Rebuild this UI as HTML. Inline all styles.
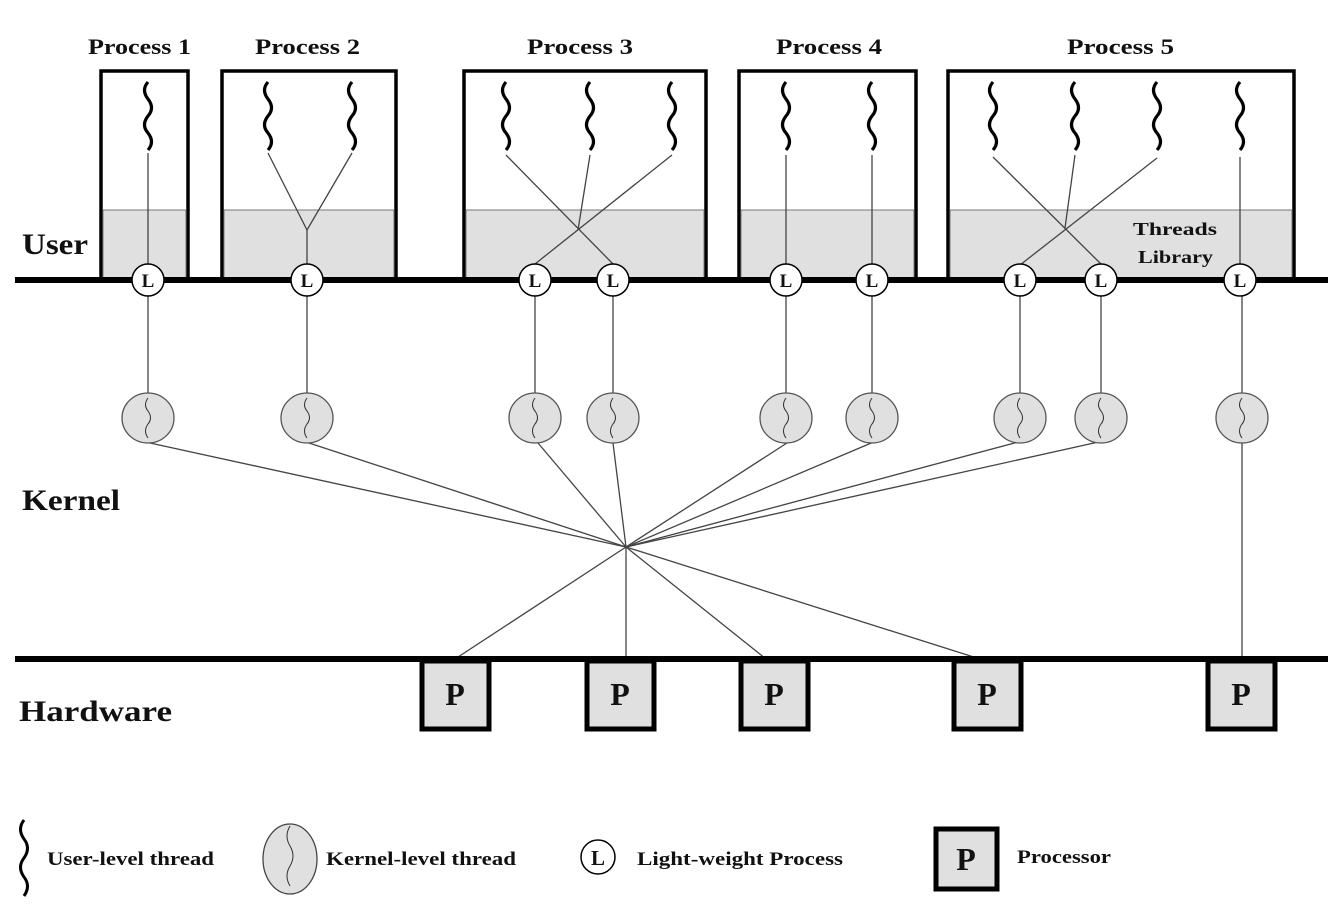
<!DOCTYPE html>
<html><head><meta charset="utf-8"><style>
html,body{margin:0;padding:0;background:#fff;}
svg{display:block;}
text{font-family:"Liberation Serif",serif;font-weight:bold;fill:#111;}
</style></head><body>
<svg width="1344" height="910" viewBox="0 0 1344 910" xmlns="http://www.w3.org/2000/svg">
<defs>
<path id="sq" d="M0,0 q-7,8 0,17 q7,9 0,17 q-7,9 0,17 q7,9 0,17" fill="none" stroke="#000" stroke-width="3.2"/>
<path id="ksq" d="M0,-20 q-5,7 0,13 q5,7 0,13 q-5,7 0,14" fill="none" stroke="#333" stroke-width="1"/>
</defs>
<g stroke="#000" stroke-width="3.5">
<rect x="101" y="71" width="87" height="209" fill="#fff"/>
<rect x="222" y="71" width="174" height="209" fill="#fff"/>
<rect x="464" y="71" width="242" height="209" fill="#fff"/>
<rect x="739" y="71" width="177" height="209" fill="#fff"/>
<rect x="948" y="71" width="346" height="209" fill="#fff"/>
</g>
<g fill="#e0e0e0" stroke="#777" stroke-width="1">
<rect x="103" y="210" width="83" height="68"/>
<rect x="224" y="210" width="170" height="68"/>
<rect x="466" y="210" width="238" height="68"/>
<rect x="741" y="210" width="173" height="68"/>
<rect x="950" y="210" width="342" height="68"/>
</g>
<g font-size="22">
<text x="88" y="54" textLength="103" lengthAdjust="spacingAndGlyphs">Process 1</text>
<text x="255" y="54" textLength="105" lengthAdjust="spacingAndGlyphs">Process 2</text>
<text x="527" y="54" textLength="106" lengthAdjust="spacingAndGlyphs">Process 3</text>
<text x="776" y="54" textLength="106" lengthAdjust="spacingAndGlyphs">Process 4</text>
<text x="1067" y="54" textLength="107" lengthAdjust="spacingAndGlyphs">Process 5</text>
</g>
<text x="1133" y="235" font-size="18" textLength="84" lengthAdjust="spacingAndGlyphs">Threads</text>
<text x="1138" y="263" font-size="18" textLength="75" lengthAdjust="spacingAndGlyphs">Library</text>
<g>
<use href="#sq" x="148" y="82"/>
<use href="#sq" x="268" y="82"/><use href="#sq" x="352" y="82"/>
<use href="#sq" x="506" y="82"/><use href="#sq" x="590" y="82"/><use href="#sq" x="672" y="82"/>
<use href="#sq" x="786" y="82"/><use href="#sq" x="872" y="82"/>
<use href="#sq" x="993" y="82"/><use href="#sq" x="1075" y="82"/><use href="#sq" x="1157" y="82"/><use href="#sq" x="1240" y="82"/>
</g>
<g stroke="#444" stroke-width="1.3" fill="none">
<line x1="148" y1="153" x2="148" y2="264"/>
<polyline points="268,153 307,230 352,153"/><line x1="307" y1="230" x2="307" y2="264"/>
<line x1="506" y1="155" x2="613" y2="264"/>
<line x1="590" y1="155" x2="578" y2="230"/>
<line x1="672" y1="155" x2="535" y2="264"/>
<line x1="786" y1="155" x2="786" y2="264"/>
<line x1="872" y1="155" x2="872" y2="264"/>
<line x1="993" y1="157" x2="1101" y2="264"/>
<line x1="1075" y1="155" x2="1065" y2="228"/>
<line x1="1157" y1="158" x2="1020" y2="265"/>
<line x1="1240" y1="157" x2="1240" y2="264"/>
<line x1="148" y1="280" x2="148" y2="393"/>
<line x1="307" y1="280" x2="307" y2="393"/>
<line x1="535" y1="280" x2="535" y2="393"/>
<line x1="613" y1="280" x2="613" y2="393"/>
<line x1="786" y1="280" x2="786" y2="393"/>
<line x1="872" y1="280" x2="872" y2="393"/>
<line x1="1020" y1="280" x2="1020" y2="393"/>
<line x1="1101" y1="280" x2="1101" y2="393"/>
<line x1="1242" y1="280" x2="1242" y2="659"/>
<line x1="150" y1="443" x2="626" y2="547"/>
<line x1="309" y1="443" x2="626" y2="547"/>
<line x1="538" y1="443" x2="626" y2="547"/>
<line x1="613" y1="443" x2="626" y2="547"/>
<line x1="790" y1="441" x2="626" y2="547"/>
<line x1="876" y1="441" x2="626" y2="547"/>
<line x1="1022" y1="441" x2="626" y2="547"/>
<line x1="1103" y1="441" x2="626" y2="547"/>
<line x1="626" y1="547" x2="455" y2="659"/>
<line x1="626" y1="547" x2="626" y2="659"/>
<line x1="626" y1="547" x2="766" y2="659"/>
<line x1="626" y1="547" x2="980" y2="659"/>
</g>
<rect x="15" y="277" width="1313" height="6" fill="#000"/>
<rect x="15" y="656" width="1313" height="6" fill="#000"/>
<g font-size="19">
<g fill="#fff" stroke="#000" stroke-width="1.5">
<circle cx="148" cy="280" r="16"/><circle cx="307" cy="280" r="16"/>
<circle cx="535" cy="280" r="16"/><circle cx="613" cy="280" r="16"/>
<circle cx="786" cy="280" r="16"/><circle cx="872" cy="280" r="16"/>
<circle cx="1020" cy="280" r="16"/><circle cx="1101" cy="280" r="16"/>
<circle cx="1240" cy="280" r="16"/>
</g>
<text x="148" y="287" text-anchor="middle">L</text><text x="307" y="287" text-anchor="middle">L</text>
<text x="535" y="287" text-anchor="middle">L</text><text x="613" y="287" text-anchor="middle">L</text>
<text x="786" y="287" text-anchor="middle">L</text><text x="872" y="287" text-anchor="middle">L</text>
<text x="1020" y="287" text-anchor="middle">L</text><text x="1101" y="287" text-anchor="middle">L</text>
<text x="1240" y="287" text-anchor="middle">L</text>
</g>
<g fill="#e0e0e0" stroke="#555" stroke-width="1.3">
<ellipse cx="148" cy="418" rx="26" ry="25"/><ellipse cx="307" cy="418" rx="26" ry="25"/>
<ellipse cx="535" cy="418" rx="26" ry="25"/><ellipse cx="613" cy="418" rx="26" ry="25"/>
<ellipse cx="786" cy="418" rx="26" ry="25"/><ellipse cx="872" cy="418" rx="26" ry="25"/>
<ellipse cx="1020" cy="418" rx="26" ry="25"/><ellipse cx="1101" cy="418" rx="26" ry="25"/>
<ellipse cx="1242" cy="418" rx="26" ry="25"/>
</g>
<g>
<use href="#ksq" x="148" y="418"/><use href="#ksq" x="307" y="418"/>
<use href="#ksq" x="535" y="418"/><use href="#ksq" x="613" y="418"/>
<use href="#ksq" x="786" y="418"/><use href="#ksq" x="872" y="418"/>
<use href="#ksq" x="1020" y="418"/><use href="#ksq" x="1101" y="418"/>
<use href="#ksq" x="1242" y="418"/>
</g>
<g fill="#e0e0e0" stroke="#000" stroke-width="5">
<rect x="422" y="661" width="67" height="68"/>
<rect x="587" y="661" width="67" height="68"/>
<rect x="741" y="661" width="67" height="68"/>
<rect x="954" y="661" width="67" height="68"/>
<rect x="1208" y="661" width="67" height="68"/>
</g>
<g font-size="32">
<text x="455" y="705" text-anchor="middle">P</text>
<text x="620" y="705" text-anchor="middle">P</text>
<text x="774" y="705" text-anchor="middle">P</text>
<text x="987" y="705" text-anchor="middle">P</text>
<text x="1241" y="705" text-anchor="middle">P</text>
</g>
<text x="22" y="254" font-size="30" textLength="66" lengthAdjust="spacingAndGlyphs">User</text>
<text x="22" y="510" font-size="30" textLength="98" lengthAdjust="spacingAndGlyphs">Kernel</text>
<text x="19" y="721" font-size="30" textLength="153" lengthAdjust="spacingAndGlyphs">Hardware</text>
<path d="M24,820 q-7,9 0,19 q7,9 0,19 q-7,9 0,19 q7,9 0,19" fill="none" stroke="#000" stroke-width="3"/>
<g font-size="19">
<text x="47" y="865" textLength="167" lengthAdjust="spacingAndGlyphs">User-level thread</text>
<text x="326" y="865" textLength="190" lengthAdjust="spacingAndGlyphs">Kernel-level thread</text>
<text x="637" y="865" textLength="206" lengthAdjust="spacingAndGlyphs">Light-weight Process</text>
<text x="1017" y="863" textLength="94" lengthAdjust="spacingAndGlyphs">Processor</text>
</g>
<ellipse cx="290" cy="859" rx="27" ry="35" fill="#e0e0e0" stroke="#444" stroke-width="1.3"/>
<path d="M290,826 q-6,10 0,20 q6,10 0,20 q-6,10 0,20" fill="none" stroke="#333" stroke-width="1"/>
<circle cx="598" cy="857" r="17" fill="#fff" stroke="#000" stroke-width="1.5"/>
<text x="598" y="865" font-size="21" text-anchor="middle">L</text>
<rect x="936" y="829" width="61" height="60" fill="#e0e0e0" stroke="#000" stroke-width="5"/>
<text x="966" y="870" font-size="32" text-anchor="middle">P</text>
</svg>
</body></html>
